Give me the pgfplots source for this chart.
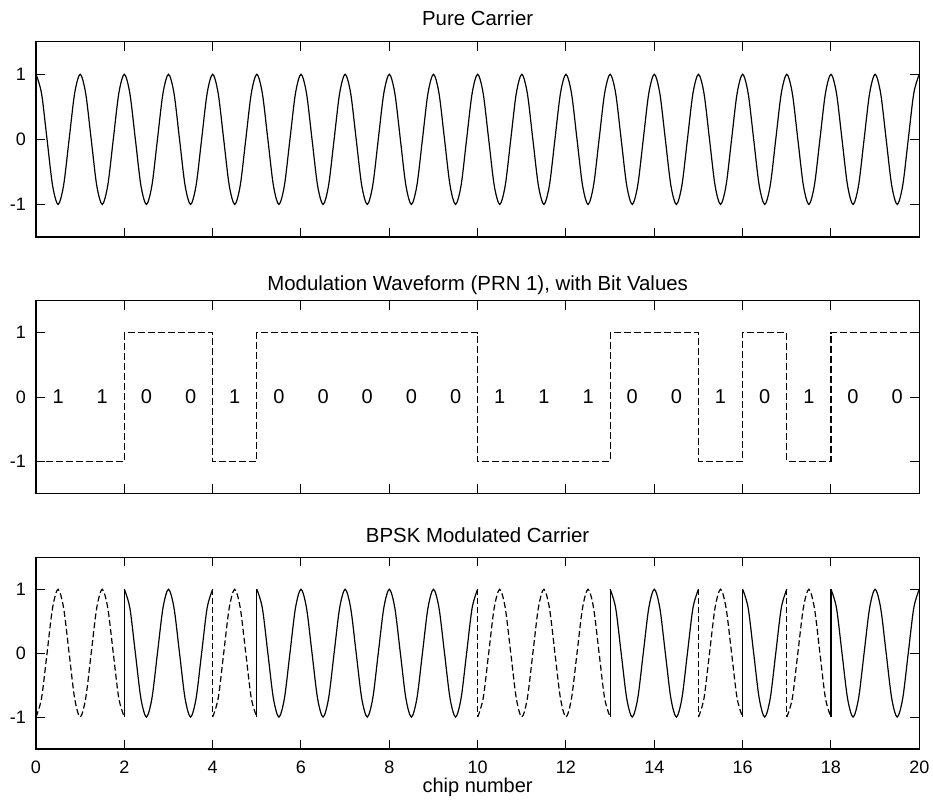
\documentclass[border=0pt]{standalone}
\usepackage{fontspec}
\setmainfont{Liberation Sans}
\usepackage{pgfplots}
\pgfplotsset{compat=1.18}

\pgfplotsset{
  chipaxis/.style={
    scale only axis, width=441.65pt, anchor=south west,
    xmin=0, xmax=20, ymin=-1.5, ymax=1.5,
    xtick={0,2,...,20}, ytick={-1,0,1}, yticklabels={-1,0,1},
    major tick length=4.5pt,
    tick style={black, line width=0.5pt},
    axis line style={line width=0.6pt},
    tick label style={font=\fontsize{9}{10}\selectfont},
    yticklabel style={xshift=-1.5pt},
    title style={font=\fontsize{10.2}{12}\selectfont, anchor=base, at={(0.5,1)}},
  },
  wave/.style={black, line width=0.6pt, smooth},
  dwave/.style={black, line width=0.6pt, smooth, dash pattern=on 3pt off 1.5pt},
  vsolid/.style={black, line width=0.6pt},
  vdash/.style={black, line width=0.6pt, dash pattern=on 3pt off 1.5pt},
}

\begin{document}
\begin{tikzpicture}
\path[use as bounding box] (0,0) rectangle (466.5pt,402.5pt);

% ---- pure carrier ----
\begin{axis}[chipaxis, at={(18pt,284pt)}, height=97.65pt,
  xticklabels={}, title={Pure Carrier}, title style={yshift=2pt}]
\addplot[wave] coordinates {
(0,1) (0.125,.7071) (0.25,0) (0.375,-.7071) (0.5,-1) (0.625,-.7071) (0.75,0) (0.875,.7071)
(1,1) (1.125,.7071) (1.25,0) (1.375,-.7071) (1.5,-1) (1.625,-.7071) (1.75,0) (1.875,.7071)
(2,1) (2.125,.7071) (2.25,0) (2.375,-.7071) (2.5,-1) (2.625,-.7071) (2.75,0) (2.875,.7071)
(3,1) (3.125,.7071) (3.25,0) (3.375,-.7071) (3.5,-1) (3.625,-.7071) (3.75,0) (3.875,.7071)
(4,1) (4.125,.7071) (4.25,0) (4.375,-.7071) (4.5,-1) (4.625,-.7071) (4.75,0) (4.875,.7071)
(5,1) (5.125,.7071) (5.25,0) (5.375,-.7071) (5.5,-1) (5.625,-.7071) (5.75,0) (5.875,.7071)
(6,1) (6.125,.7071) (6.25,0) (6.375,-.7071) (6.5,-1) (6.625,-.7071) (6.75,0) (6.875,.7071)
(7,1) (7.125,.7071) (7.25,0) (7.375,-.7071) (7.5,-1) (7.625,-.7071) (7.75,0) (7.875,.7071)
(8,1) (8.125,.7071) (8.25,0) (8.375,-.7071) (8.5,-1) (8.625,-.7071) (8.75,0) (8.875,.7071)
(9,1) (9.125,.7071) (9.25,0) (9.375,-.7071) (9.5,-1) (9.625,-.7071) (9.75,0) (9.875,.7071)
(10,1) (10.125,.7071) (10.25,0) (10.375,-.7071) (10.5,-1) (10.625,-.7071) (10.75,0) (10.875,.7071)
(11,1) (11.125,.7071) (11.25,0) (11.375,-.7071) (11.5,-1) (11.625,-.7071) (11.75,0) (11.875,.7071)
(12,1) (12.125,.7071) (12.25,0) (12.375,-.7071) (12.5,-1) (12.625,-.7071) (12.75,0) (12.875,.7071)
(13,1) (13.125,.7071) (13.25,0) (13.375,-.7071) (13.5,-1) (13.625,-.7071) (13.75,0) (13.875,.7071)
(14,1) (14.125,.7071) (14.25,0) (14.375,-.7071) (14.5,-1) (14.625,-.7071) (14.75,0) (14.875,.7071)
(15,1) (15.125,.7071) (15.25,0) (15.375,-.7071) (15.5,-1) (15.625,-.7071) (15.75,0) (15.875,.7071)
(16,1) (16.125,.7071) (16.25,0) (16.375,-.7071) (16.5,-1) (16.625,-.7071) (16.75,0) (16.875,.7071)
(17,1) (17.125,.7071) (17.25,0) (17.375,-.7071) (17.5,-1) (17.625,-.7071) (17.75,0) (17.875,.7071)
(18,1) (18.125,.7071) (18.25,0) (18.375,-.7071) (18.5,-1) (18.625,-.7071) (18.75,0) (18.875,.7071)
(19,1) (19.125,.7071) (19.25,0) (19.375,-.7071) (19.5,-1) (19.625,-.7071) (19.75,0) (19.875,.7071)
(20,1)
};
\end{axis}

% ---- modulation waveform ----
\begin{axis}[chipaxis, at={(18pt,155.85pt)}, height=96.3pt,
  xticklabels={}, title={Modulation Waveform (PRN 1), with Bit Values},
  title style={yshift=-0.9pt}]
\addplot[vdash, dash pattern=on 3.5pt off 1.5pt] coordinates {
(0,-1) (2,-1) (2,1) (4,1) (4,-1) (5,-1) (5,1) (10,1) (10,-1) (13,-1)
(13,1) (15,1) (15,-1) (16,-1) (16,1) (17,1) (17,-1) (18,-1) (18,1) (20,1)
};
\addplot[draw=none, nodes near coords, point meta=explicit symbolic,
  nodes near coords style={anchor=center, inner sep=0pt, font=\fontsize{10}{11}\selectfont}]
coordinates {
(0.5,0)[1] (1.5,0)[1] (2.5,0)[0] (3.5,0)[0] (4.5,0)[1] (5.5,0)[0] (6.5,0)[0]
(7.5,0)[0] (8.5,0)[0] (9.5,0)[0] (10.5,0)[1] (11.5,0)[1] (12.5,0)[1] (13.5,0)[0]
(14.5,0)[0] (15.5,0)[1] (16.5,0)[0] (17.5,0)[1] (18.5,0)[0] (19.5,0)[0]
};
\end{axis}

% ---- BPSK modulated carrier ----
\begin{axis}[chipaxis, at={(18pt,28pt)}, height=95.85pt,
  title={BPSK Modulated Carrier}, title style={yshift=1.5pt},
  xticklabels={0,2,4,6,8,10,12,14,16,18,20},
  xticklabel style={anchor=base, inner sep=0pt, yshift=-12pt},
  xlabel={chip number},
  xlabel style={font=\fontsize{10}{12}\selectfont, anchor=base, inner sep=0pt,
    at={(axis description cs:0.5,0)}, yshift=-21.5pt}]
% chips where the code bit is 1 (carrier inverted), dashed
\addplot[dwave] coordinates {
(0,-1) (0.125,-.7071) (0.25,0) (0.375,.7071) (0.5,1) (0.625,.7071) (0.75,0) (0.875,-.7071)
(1,-1) (1.125,-.7071) (1.25,0) (1.375,.7071) (1.5,1) (1.625,.7071) (1.75,0) (1.875,-.7071)
(2,-1)
};
\addplot[dwave] coordinates {
(4,-1) (4.125,-.7071) (4.25,0) (4.375,.7071) (4.5,1) (4.625,.7071) (4.75,0) (4.875,-.7071)
(5,-1)
};
\addplot[dwave] coordinates {
(10,-1) (10.125,-.7071) (10.25,0) (10.375,.7071) (10.5,1) (10.625,.7071) (10.75,0) (10.875,-.7071)
(11,-1) (11.125,-.7071) (11.25,0) (11.375,.7071) (11.5,1) (11.625,.7071) (11.75,0) (11.875,-.7071)
(12,-1) (12.125,-.7071) (12.25,0) (12.375,.7071) (12.5,1) (12.625,.7071) (12.75,0) (12.875,-.7071)
(13,-1)
};
\addplot[dwave] coordinates {
(15,-1) (15.125,-.7071) (15.25,0) (15.375,.7071) (15.5,1) (15.625,.7071) (15.75,0) (15.875,-.7071)
(16,-1)
};
\addplot[dwave] coordinates {
(17,-1) (17.125,-.7071) (17.25,0) (17.375,.7071) (17.5,1) (17.625,.7071) (17.75,0) (17.875,-.7071)
(18,-1)
};
% chips where the code bit is 0, solid
\addplot[wave] coordinates {
(2,1) (2.125,.7071) (2.25,0) (2.375,-.7071) (2.5,-1) (2.625,-.7071) (2.75,0) (2.875,.7071)
(3,1) (3.125,.7071) (3.25,0) (3.375,-.7071) (3.5,-1) (3.625,-.7071) (3.75,0) (3.875,.7071)
(4,1)
};
\addplot[wave] coordinates {
(5,1) (5.125,.7071) (5.25,0) (5.375,-.7071) (5.5,-1) (5.625,-.7071) (5.75,0) (5.875,.7071)
(6,1) (6.125,.7071) (6.25,0) (6.375,-.7071) (6.5,-1) (6.625,-.7071) (6.75,0) (6.875,.7071)
(7,1) (7.125,.7071) (7.25,0) (7.375,-.7071) (7.5,-1) (7.625,-.7071) (7.75,0) (7.875,.7071)
(8,1) (8.125,.7071) (8.25,0) (8.375,-.7071) (8.5,-1) (8.625,-.7071) (8.75,0) (8.875,.7071)
(9,1) (9.125,.7071) (9.25,0) (9.375,-.7071) (9.5,-1) (9.625,-.7071) (9.75,0) (9.875,.7071)
(10,1)
};
\addplot[wave] coordinates {
(13,1) (13.125,.7071) (13.25,0) (13.375,-.7071) (13.5,-1) (13.625,-.7071) (13.75,0) (13.875,.7071)
(14,1) (14.125,.7071) (14.25,0) (14.375,-.7071) (14.5,-1) (14.625,-.7071) (14.75,0) (14.875,.7071)
(15,1)
};
\addplot[wave] coordinates {
(16,1) (16.125,.7071) (16.25,0) (16.375,-.7071) (16.5,-1) (16.625,-.7071) (16.75,0) (16.875,.7071)
(17,1)
};
\addplot[wave] coordinates {
(18,1) (18.125,.7071) (18.25,0) (18.375,-.7071) (18.5,-1) (18.625,-.7071) (18.75,0) (18.875,.7071)
(19,1) (19.125,.7071) (19.25,0) (19.375,-.7071) (19.5,-1) (19.625,-.7071) (19.75,0) (19.875,.7071)
(20,1)
};
% phase jumps
\addplot[vsolid] coordinates {(2,-1) (2,1)};
\addplot[vdash] coordinates {(4,1) (4,-1)};
\addplot[vsolid] coordinates {(5,-1) (5,1)};
\addplot[vdash] coordinates {(10,1) (10,-1)};
\addplot[vsolid] coordinates {(13,-1) (13,1)};
\addplot[vdash] coordinates {(15,1) (15,-1)};
\addplot[vsolid] coordinates {(16,-1) (16,1)};
\addplot[vdash] coordinates {(17,1) (17,-1)};
\addplot[vsolid] coordinates {(18,-1) (18,1)};
\end{axis}
\end{tikzpicture}
\end{document}
